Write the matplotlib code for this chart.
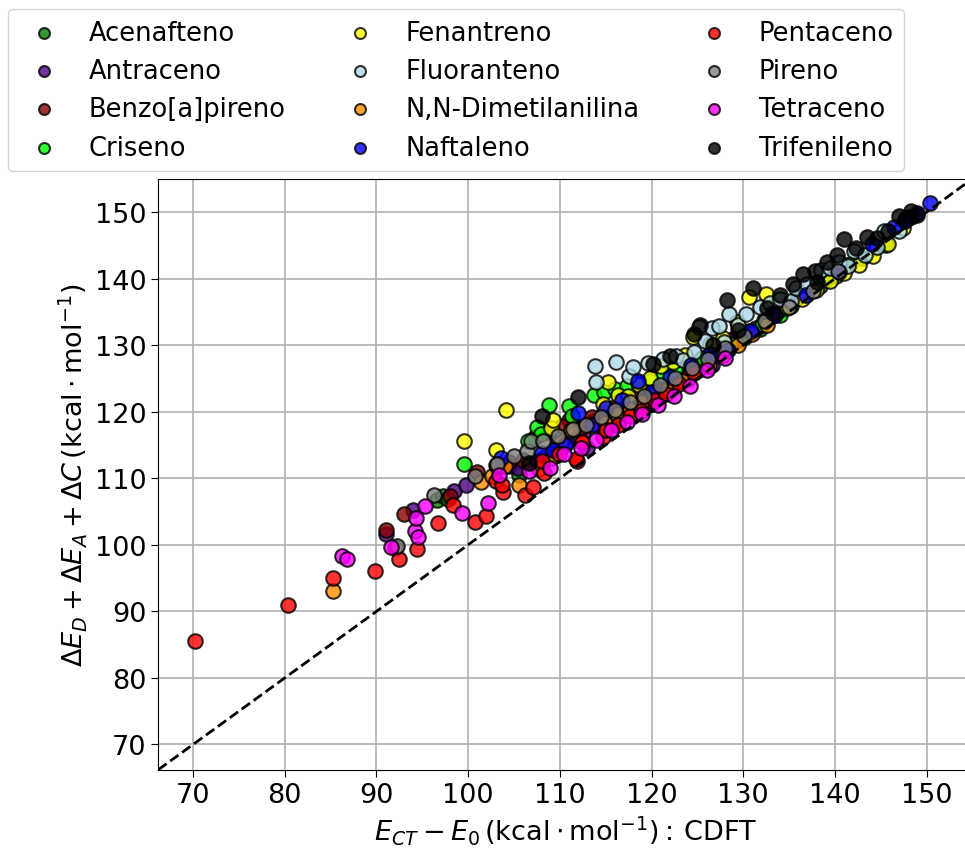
import matplotlib
matplotlib.use("Agg")
import matplotlib.pyplot as plt

# compound names and marker colours (plotted in this order)
names = ["Acenafteno", "Antraceno", "Benzo[a]pireno", "Criseno", "Fenantreno",
         "Fluoranteno", "N,N-Dimetilanilina", "Naftaleno", "Pentaceno",
         "Pireno", "Tetraceno", "Trifenileno"]
colors = ["green", "indigo", "darkred", "lime", "yellow", "lightblue",
          "darkorange", "blue", "red", "gray", "magenta", "black"]

# x: E_CT - E_0 (CDFT), y: dE_D + dE_A + dC
acen_x = [96.6, 97.3, 97.8, 105.5, 108.2, 112.0, 115.5, 118.5, 120.2, 122.8, 125.1, 127.4,
          129.6, 131.8, 133.5, 135.2, 136.9, 138.4, 140.1, 141.6, 143.0, 144.4, 145.6, 139.0, 134.0]
acen_y = [106.8, 107.4, 106.9, 110.5, 113.0, 116.2, 118.7, 120.8, 122.3, 124.5, 126.3, 128.6,
          130.8, 132.4, 134.6, 135.9, 137.5, 138.9, 140.4, 142.2, 143.1, 144.6, 145.0, 139.8, 135.1]

antr_x = [91.0, 94.0, 98.5, 99.8, 104.5, 105.4, 107.6, 109.2, 110.8, 112.5, 113.6, 115.0,
          116.4, 117.3, 118.6, 119.4, 120.5, 121.3, 122.2, 123.0, 123.8, 124.6, 125.4, 126.1,
          126.9, 127.6, 128.3, 129.1, 129.8, 130.6, 131.4, 132.3, 133.1, 124.0, 121.8, 119.9,
          126.6, 128.9, 131.0, 134.5, 136.0, 113.0, 115.8]
antr_y = [101.6, 105.2, 108.1, 109.0, 111.8, 111.5, 112.6, 113.8, 115.4, 116.8, 118.6, 119.4,
          119.7, 120.4, 121.3, 121.9, 122.4, 123.2, 123.5, 124.6, 125.4, 126.3, 127.0, 127.8,
          128.3, 129.3, 129.7, 130.6, 131.1, 132.2, 132.6, 133.8, 134.4, 124.9, 122.9, 121.2,
          127.0, 130.9, 132.0, 135.9, 137.3, 114.5, 118.0]

benz_x = [91.0, 93.0, 98.0, 101.0, 103.2, 104.5, 106.0, 107.3, 108.6, 109.7, 111.0, 112.3,
          113.5, 114.8, 116.0, 117.2, 118.3, 119.5, 120.7, 122.0, 123.5, 125.0, 110.2, 115.3]
benz_y = [102.2, 104.7, 107.3, 111.0, 111.5, 112.5, 112.8, 116.2, 116.9, 115.3, 118.8, 117.6,
          119.2, 120.0, 120.7, 121.8, 122.6, 121.5, 123.3, 124.0, 125.1, 126.4, 117.8, 118.6]

cris_x = [99.5, 106.5, 107.5, 107.9, 108.8, 111.0, 111.3, 113.7, 114.8, 116.0, 117.3, 118.5,
          119.8, 121.2, 122.6, 124.0, 125.5, 127.0, 128.6, 130.2, 132.0, 134.0, 109.5]
cris_y = [112.1, 115.6, 117.7, 116.7, 121.0, 120.9, 119.4, 122.5, 123.0, 123.4, 123.8, 124.3,
          124.6, 125.5, 126.3, 127.4, 128.0, 129.3, 130.2, 131.2, 133.0, 134.6, 113.3]

fen_x = [99.5, 103.0, 104.1, 109.0, 109.3, 114.7, 115.2, 116.3, 117.4, 118.6, 119.8, 121.0,
         122.3, 123.7, 124.5, 126.4, 127.8, 129.3, 130.6, 132.5, 133.3, 134.8, 136.4, 137.9,
         139.5, 141.0, 142.6, 144.2, 145.8, 147.4]
fen_y = [115.6, 114.3, 120.3, 117.5, 118.8, 121.2, 124.5, 122.5, 122.4, 124.0, 125.0, 126.9,
         127.4, 128.5, 131.2, 130.2, 131.0, 133.5, 137.2, 137.7, 134.6, 135.6, 137.0, 138.3,
         139.6, 140.8, 142.1, 143.4, 145.2, 147.6]

flu_x = [113.8, 116.1, 113.9, 117.5, 118.0, 119.6, 121.2, 122.7, 123.4, 124.6, 125.2, 126.6,
         127.4, 128.5, 129.4, 130.3, 131.8, 132.9, 134.0, 135.2, 135.8, 137.0, 138.5, 139.5,
         140.4, 141.4, 142.1, 143.3, 144.6, 145.4, 147.0, 148.0, 125.8, 127.9]
flu_y = [126.9, 127.5, 124.5, 125.3, 126.7, 127.3, 127.9, 128.4, 127.8, 129.0, 132.7, 132.6,
         132.9, 134.7, 133.0, 134.7, 135.8, 136.4, 136.9, 136.6, 138.6, 139.2, 141.3, 141.6,
         142.5, 141.9, 144.1, 143.6, 144.7, 147.1, 147.1, 149.3, 130.6, 130.5]

nn_x = [85.3, 92.0, 101.4, 102.6, 104.0, 105.5, 107.7, 109.0, 110.1, 111.2, 112.5, 113.6,
        114.9, 116.2, 117.6, 119.0, 120.4, 121.8, 123.3, 124.8, 126.3, 127.8, 129.4, 131.0, 132.6]
nn_y = [93.0, 99.5, 109.5, 110.4, 111.9, 109.0, 111.4, 113.0, 115.5, 117.3, 115.3, 118.1,
        118.3, 119.7, 120.4, 121.4, 122.7, 123.4, 124.6, 126.1, 126.8, 128.5, 130.0, 131.6, 133.0]

naf_x = [103.6, 108.0, 109.3, 110.6, 112.0, 113.5, 115.0, 116.8, 118.5, 120.1, 122.0, 124.3,
         126.4, 128.3, 130.9, 133.5, 136.8, 140.5, 144.0, 146.5, 147.6, 148.3, 149.0, 150.4]
naf_y = [113.0, 113.8, 114.2, 115.0, 119.8, 118.0, 120.6, 121.8, 124.6, 123.0, 125.2, 127.0,
         128.6, 129.3, 132.2, 134.5, 137.6, 141.0, 145.2, 147.8, 148.6, 149.3, 149.8, 151.4]

pent_x = [70.2, 80.3, 85.3, 89.8, 92.5, 94.4, 96.7, 98.3, 100.8, 101.9, 103.0, 103.8, 106.2,
          107.1, 108.3, 109.9, 111.9, 112.4, 114.7, 115.0, 116.3, 117.6, 118.9, 120.3, 121.6,
          123.0, 124.6, 103.7, 108.0, 111.8]
pent_y = [85.6, 91.0, 95.0, 96.0, 97.9, 99.3, 103.3, 106.0, 103.4, 104.4, 109.6, 108.0, 107.5,
          108.7, 110.8, 113.6, 112.6, 115.4, 116.2, 117.2, 118.0, 119.3, 120.1, 121.8, 122.6,
          124.1, 125.8, 109.0, 112.6, 112.9]

pir_x = [92.2, 96.3, 100.8, 103.0, 103.2, 105.0, 106.4, 106.9, 108.2, 109.8, 111.4, 112.9,
         114.5, 116.0, 117.6, 119.2, 120.9, 122.6, 124.4, 126.2, 128.0, 130.1, 132.4, 135.0,
         137.6, 140.3]
pir_y = [99.8, 107.5, 110.4, 112.0, 112.2, 113.4, 114.1, 115.6, 115.6, 116.4, 117.4, 118.0,
         119.2, 120.3, 121.5, 122.3, 124.0, 125.1, 126.6, 127.9, 129.5, 131.3, 133.6, 135.7,
         138.1, 141.2]

tet_x = [86.2, 86.8, 91.6, 94.2, 94.5, 94.3, 95.3, 99.3, 102.2, 103.4, 106.6, 108.9, 110.5,
         112.3, 113.9, 115.6, 117.3, 119.0, 120.7, 122.4, 124.2, 126.0, 128.0]
tet_y = [98.3, 97.9, 99.6, 102.0, 101.2, 104.0, 105.8, 104.8, 106.3, 110.5, 111.1, 111.6,
         113.6, 114.5, 115.8, 117.3, 118.4, 119.6, 121.0, 122.3, 123.8, 126.3, 128.0]

tri_x = [106.6, 108.0, 112.0, 120.2, 122.0, 124.6, 125.3, 126.7, 128.2, 129.4, 131.1, 132.6,
         134.0, 135.4, 136.5, 137.8, 139.1, 140.2, 141.0, 142.3, 143.5, 144.6, 145.8, 147.0,
         147.6, 148.3, 149.0, 138.0, 133.2]
tri_y = [112.3, 119.4, 122.2, 127.2, 128.3, 131.6, 133.0, 130.0, 136.8, 132.3, 138.6, 135.6,
         137.6, 139.2, 140.7, 141.2, 142.5, 143.6, 146.0, 144.6, 146.3, 146.1, 147.2, 149.4,
         149.0, 150.1, 149.6, 139.5, 134.8]

xs = [acen_x, antr_x, benz_x, cris_x, fen_x, flu_x, nn_x, naf_x, pent_x, pir_x, tet_x, tri_x]
ys = [acen_y, antr_y, benz_y, cris_y, fen_y, flu_y, nn_y, naf_y, pent_y, pir_y, tet_y, tri_y]

fig = plt.figure(figsize=(9.65, 8.54), dpi=100)
# right edge of the axes runs past the figure, as in the original crop
ax = fig.add_axes([0.164, 0.0975, 0.8437, 0.692])

for name, c, x, y in zip(names, colors, xs, ys):
    ax.scatter(x, y, s=110, c=c, edgecolors="black", linewidths=1.5, alpha=0.8,
               label=name, zorder=3)

ax.axline((70, 70), slope=1, color="black", linestyle="--", linewidth=2, zorder=4)

ax.set_xlim(66.2, 155.0)
ax.set_ylim(66.2, 155.0)
ax.set_xticks(range(70, 151, 10))
ax.set_yticks(range(70, 151, 10))
ax.grid(True, color="#b0b0b0", linewidth=1.2)
ax.set_axisbelow(True)
ax.tick_params(labelsize=19.5, length=5)

ax.set_xlabel(r"$E_{CT} - E_0\,(\mathrm{kcal \cdot mol^{-1}}):\,\mathrm{CDFT}$", fontsize=19.5)
ax.set_ylabel(r"$\Delta E_D + \Delta E_A + \Delta C\,(\mathrm{kcal \cdot mol^{-1}})$", fontsize=19.5)

ax.legend(loc="upper left", bbox_to_anchor=(0.008, 0.988), bbox_transform=fig.transFigure,
          ncol=3, fontsize=18.5, markerscale=0.75, borderaxespad=0, columnspacing=1.9,
          handletextpad=0.75, labelspacing=0.48)

fig.savefig("out.png", dpi=100)
